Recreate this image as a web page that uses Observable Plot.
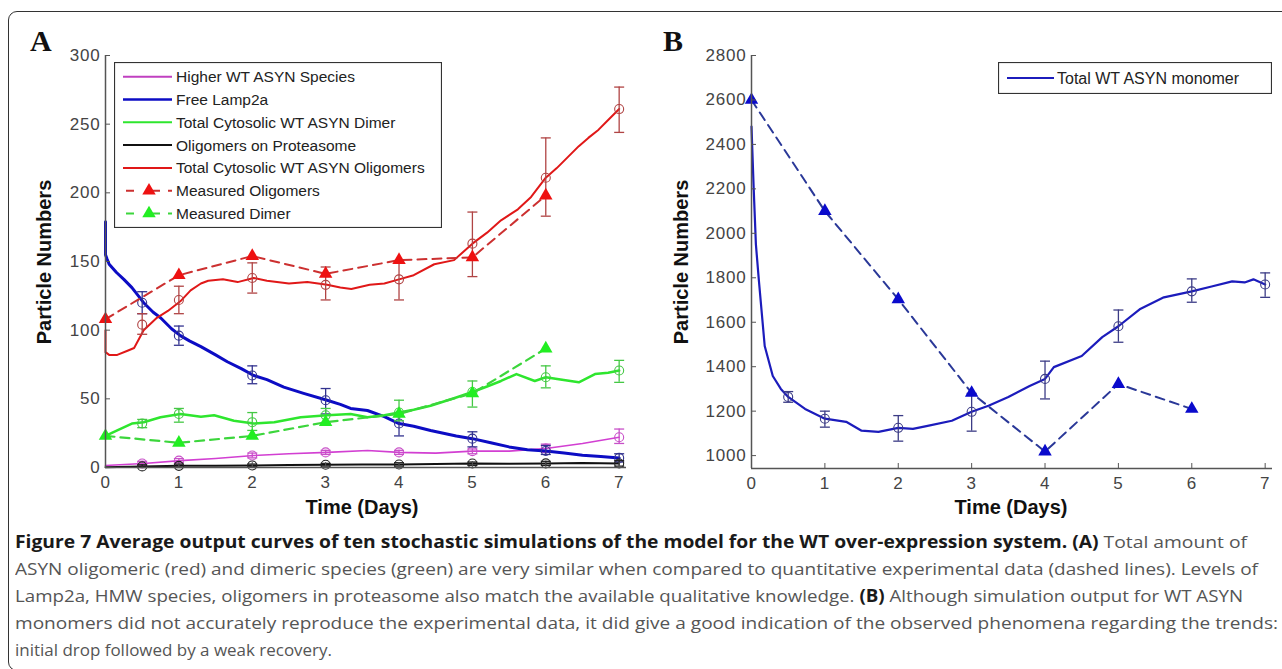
<!DOCTYPE html>
<html><head><meta charset="utf-8">
<script src="https://cdn.jsdelivr.net/npm/d3@7"></script>
<script src="https://cdn.jsdelivr.net/npm/@observablehq/plot@0.6"></script>
<style>
html,body{margin:0;padding:0;background:#fff;width:1282px;height:669px;overflow:hidden;}
#page{position:relative;width:1282px;height:669px;}
#frame{position:absolute;left:8px;top:11px;width:1290px;height:660px;border:1.5px solid #333;border-radius:9px;box-sizing:border-box}
.plot{position:absolute;top:0}
.letter{position:absolute;font-family:"Liberation Serif",serif;font-weight:bold;font-size:30px;line-height:1;color:#111}
.ylab{position:absolute;font-family:"Liberation Sans",Arial,sans-serif;font-weight:bold;font-size:20px;transform:translate(-50%,-50%) rotate(-90deg);white-space:nowrap;color:#111}
.xlab{position:absolute;font-family:"Liberation Sans",Arial,sans-serif;font-weight:bold;font-size:20px;transform:translate(-50%,-50%);white-space:nowrap;color:#111}
.cap{position:absolute;left:15px;font-family:"Open Sans",sans-serif;font-size:17px;color:#555;white-space:nowrap;transform-origin:0 50%;line-height:20px}
.cap b{color:#1a1a1a}
</style></head>
<body><div id="page"><div id="frame"></div></div>
<script>
// ---------- Panel A data ----------
const xTicks = [0,1,2,3,4,5,6,7];
const yTicksA = [0,50,100,150,200,250,300];
const yTicksB = [1000,1200,1400,1600,1800,2000,2200,2400,2600,2800];
const tErr = [0.5,1,2,3,4,5,6,7];

// Total Cytosolic WT ASYN Oligomers (red)
const tRed = [0,0,0.05,0.16,0.3,0.39,0.52,0.7,0.85,1.02,1.16,1.3,1.4,1.6,1.8,2.02,2.2,2.5,2.75,3.02,3.2,3.35,3.6,3.8,4.0,4.2,4.48,4.75,5.0,5.2,5.39,5.62,5.8,6.0,6.15,6.3,6.45,6.58,6.72,6.85,7.0];
const vRed = [100,84,82,82,85,87,100,109,114,121,129,134,136,137,135,138,136,134,135,133,131,130,133,134,137,140,148,151,163,171,180,188,197,211,218,226,234,240,246,253,261];
const mRed = [104,122,138,133,137,163,211,261];
const loRed = [97,112,127,122,122,139,183,244];
const hiRed = [112,132,149,146,150,186,240,277];

// Free Lamp2a (blue)
const tBlue = [0,0,0.02,0.05,0.15,0.25,0.36,0.52,0.65,0.75,0.9,1.02,1.15,1.3,1.5,1.66,1.85,2.02,2.2,2.43,2.7,3.02,3.2,3.34,3.57,3.8,4.0,4.2,4.43,4.78,5.0,5.25,5.5,5.75,6.0,6.25,6.5,6.75,7.0];
const vBlue = [179,155,152,148,142,137,131,120,113,109,101,96,92,88,82,77,72,67,64,58.5,54,49,46,43,41.5,37,32,30,27,23,21,18,15,13,12,10.5,9,8,7];
const mBlue = [120,96,67,49,32,21,12,7];
const loBlue = [112,89,61,39,23,15,9.5,4];
const hiBlue = [128,103,74,57.5,40,26,16,10];

// Total Cytosolic WT ASYN Dimer (green)
const tGreen = [0,0.16,0.36,0.52,0.75,1.02,1.15,1.3,1.48,1.75,2.02,2.3,2.66,3.02,3.34,3.57,3.8,4.0,4.2,4.43,4.78,5.0,5.2,5.39,5.6,5.85,6.0,6.2,6.45,6.67,6.85,7.0];
const vGreen = [23,27,32,33,36.6,39,38,37,38,34,32,33,36.6,38,39,36.6,38,40,42,45,51,55,59,63,68,63,65.7,64,62,68,69,70.6];
const mGreen = [32,39,33,38,40,55,65.7,70.6];
const loGreen = [29,33,27,32,34,44,58,62];
const hiGreen = [35,43,40,43,49,63,74,78];

// Higher WT ASYN Species (magenta)
const tMag = [0,0.52,1.02,1.5,2.02,2.5,3.02,3.57,4.0,4.5,5.0,5.5,6.0,6.5,7.0];
const vMag = [1.5,2.9,5,6.5,8.7,10,11,12.4,11,10.5,11.9,11.9,13.8,17.5,22];
const mMag = [2.9,5,8.7,11,11,11.9,13.8,22];
const loMag = [1.5,3.5,7,9.5,9.5,10,11,17.5];
const hiMag = [4.5,6.5,10.5,12.5,12.5,13.5,17,28];

// Oligomers on Proteasome (black)
const tBlk = [0,0.5,1,1.5,2,2.5,3,3.5,4,4.5,5,5.5,6,6.5,7];
const vBlk = [0.2,0.8,1.2,1.3,1.5,1.8,2,2.1,2.2,2.5,2.9,2.7,3,3.3,2.9];
const mBlk = [0.8,1.2,1.5,2,2.2,2.9,3,2.9];
const loBlk = [0,0,0.5,1,1,1.5,1.5,1];
const hiBlk = [2,2.5,2.5,3,3.5,4,4.5,5];

// Measured data (dashed, triangles)
const tMeas = [0,1,2,3,4,5,6];
const measOlig = [108,140,154,141,151,153,198];
const measDimer = [23,18,23,33,39,54,86.6];

// Legend A
const legendLabelsA = ["Higher WT ASYN Species","Free Lamp2a","Total Cytosolic WT ASYN Dimer","Oligomers on Proteasome","Total Cytosolic WT ASYN Oligomers","Measured Oligomers","Measured Dimer"];

// ---------- Panel B data ----------
const tMono = [0,0.03,0.06,0.1,0.18,0.29,0.4,0.5,0.73,1.0,1.29,1.5,1.73,2.0,2.2,2.4,2.73,3.0,3.23,3.5,3.79,4.0,4.12,4.5,4.78,5.0,5.29,5.62,6.0,6.27,6.55,6.72,6.84,7.0];
const vMono = [2480,2200,1950,1790,1493,1358,1300,1264,1210,1166,1152,1112,1107,1125,1120,1134,1157,1197,1224,1264,1313,1345,1398,1448,1533,1582,1658,1712,1739,1761,1784,1779,1793,1770];
const mMono = [1264,1166,1125,1197,1345,1582,1739,1770];
const loMono = [1240,1128,1065,1110,1255,1510,1690,1712];
const hiMono = [1288,1200,1180,1280,1425,1655,1795,1822];
const measMono = [2600,2100,1703,1282,1018,1322,1210];
const legendLabelB = "Total WT ASYN monomer";

// ---------- helpers ----------
const zip = (t, v) => t.map((x, i) => ({x, y: v[i]}));
const cap = {draw(ctx, size){ const r = Math.sqrt(size/Math.PI); ctx.moveTo(-r,0); ctx.lineTo(r,0); }};
function errMarks(m, lo, hi, color) {
  const d = tErr.map((x,i)=>({x, m:m[i], lo:lo[i], hi:hi[i]}));
  return [
    Plot.ruleX(d, {x:"x", y1:"lo", y2:"hi", stroke: color, strokeWidth: 1.3}),
    Plot.dot(d, {x:"x", y:"lo", symbol: cap, r: 5, stroke: color, strokeWidth: 1.3}),
    Plot.dot(d, {x:"x", y:"hi", symbol: cap, r: 5, stroke: color, strokeWidth: 1.3}),
    Plot.dot(d, {x:"x", y:"m", r: 4.5, stroke: color, fill: "none", strokeWidth: 1.1})
  ];
}
function axes(yTicks, y0) {
  return [
    Plot.ruleX([0], {stroke:"#555", strokeWidth:1.5}),
    Plot.ruleY([y0], {stroke:"#555", strokeWidth:1.5}),
    Plot.axisX(xTicks, {anchor:"bottom", tickSize:-5, tickPadding:13, stroke:"#555", fill:"#444", label:null, tickFormat: d => String(d)}),
    Plot.axisY(yTicks, {anchor:"left", tickSize:-5, tickPadding:10, stroke:"#555", fill:"#444", label:null, tickFormat: d => String(d)})
  ];
}
const style = {fontFamily:'"Liberation Sans", Arial, sans-serif', fontSize:"17px", background:"transparent", overflow:"visible", letterSpacing:"0.8px"};

// ---------- Panel A ----------
const plotA = Plot.plot({
  width: 640, height: 500, marginLeft: 105, marginRight: 14, marginTop: 55, marginBottom: 33,
  x: {domain:[0,7.1]}, y: {domain:[0,300]}, style,
  marks: [
    Plot.line(zip(tMag, vMag), {x:"x", y:"y", stroke:"#d23fd2", strokeWidth:1.6}),
    ...errMarks(mMag, loMag, hiMag, "#c850c8"),
    Plot.line(zip(tBlue, vBlue), {x:"x", y:"y", stroke:"#0c0cc4", strokeWidth:3}),
    ...errMarks(mBlue, loBlue, hiBlue, "#33338f"),
    Plot.line(zip(tGreen, vGreen), {x:"x", y:"y", stroke:"#2ee62e", strokeWidth:2.5}),
    ...errMarks(mGreen, loGreen, hiGreen, "#45c845"),
    Plot.line(zip(tBlk, vBlk), {x:"x", y:"y", stroke:"#111", strokeWidth:2}),
    ...errMarks(mBlk, loBlk, hiBlk, "#222"),
    Plot.line(zip(tRed, vRed), {x:"x", y:"y", stroke:"#e01818", strokeWidth:2}),
    ...errMarks(mRed, loRed, hiRed, "#b04444"),
    Plot.line(zip(tMeas, measOlig), {x:"x", y:"y", stroke:"#cc3030", strokeWidth:2, strokeDasharray:"9,6"}),
    Plot.dot(zip(tMeas, measOlig), {x:"x", y:"y", symbol:"triangle", r:5, fill:"#ee1111"}),
    Plot.line(zip(tMeas, measDimer), {x:"x", y:"y", stroke:"#3cd63c", strokeWidth:2.2, strokeDasharray:"9,6"}),
    Plot.dot(zip(tMeas, measDimer), {x:"x", y:"y", symbol:"triangle", r:5, fill:"#22ee22"}),
    ...axes(yTicksA, 0)
  ]
});
plotA.classList.add("plot"); plotA.style.left = "0px";

// ---------- Panel B ----------
const plotB = Plot.plot({
  width: 640, height: 500, marginLeft: 111, marginRight: 8, marginTop: 55, marginBottom: 32,
  x: {domain:[0,7.1]}, y: {domain:[942,2800]}, style,
  marks: [
    Plot.line(zip(tMono, vMono), {x:"x", y:"y", stroke:"#1c1cbc", strokeWidth:2.2}),
    ...errMarks(mMono, loMono, hiMono, "#3c3c86"),
    Plot.line(zip(tMeas, measMono), {x:"x", y:"y", stroke:"#2a3898", strokeWidth:2, strokeDasharray:"9,6"}),
    Plot.dot(zip(tMeas, measMono), {x:"x", y:"y", symbol:"triangle", r:5, fill:"#0a0acc"}),
    ...axes(yTicksB, 942)
  ]
});
plotB.classList.add("plot"); plotB.style.left = "640px";

const page = document.getElementById("page");
page.appendChild(plotA); page.appendChild(plotB);

// ---------- labels ----------
function addDiv(cls, text, css) { const d = document.createElement("div"); d.className = cls; d.textContent = text; Object.assign(d.style, css); page.appendChild(d); return d; }
addDiv("letter", "A", {left:"30px", top:"26px"});
addDiv("letter", "B", {left:"663px", top:"26px"});
addDiv("ylab", "Particle Numbers", {left:"44px", top:"262px"});
addDiv("ylab", "Particle Numbers", {left:"681px", top:"262px"});
addDiv("xlab", "Time (Days)", {left:"362px", top:"507px"});
addDiv("xlab", "Time (Days)", {left:"1011px", top:"507px"});

// ---------- legends ----------
const legA = d3.select(page).append("svg").style("position","absolute").style("left","114px").style("top","62px")
  .attr("width", 328).attr("height", 166);
legA.append("rect").attr("x",0.5).attr("y",0.5).attr("width",327).attr("height",165).attr("fill","#fff").attr("stroke","#333").attr("stroke-width",1.2);
const legColors = ["#c040c0","#0c0cc4","#2ee62e","#111","#e01818","#cc3030","#3cd63c"];
const triColors = [null,null,null,null,null,"#ee1111","#22ee22"];
legendLabelsA.forEach((lab, i) => {
  const cy = 14.7 + i*22.8;
  const g = legA.append("g");
  if (triColors[i]) {
    g.append("line").attr("x1",12).attr("x2",58).attr("y1",cy).attr("y2",cy).attr("stroke",legColors[i]).attr("stroke-width",2).attr("stroke-dasharray","8,17,9");
    g.append("path").attr("d", d3.symbol(d3.symbolTriangle, 78)()).attr("transform",`translate(35,${cy})`).attr("fill",triColors[i]);
  } else {
    g.append("line").attr("x1",9).attr("x2",58).attr("y1",cy).attr("y2",cy).attr("stroke",legColors[i]).attr("stroke-width",i===1?2.5:2);
  }
  g.append("text").attr("x",62).attr("y",cy).attr("dy","0.36em").attr("font-family","Liberation Sans, Arial, sans-serif").attr("font-size","15.5px").attr("fill","#222").text(lab);
});
const legB = d3.select(page).append("svg").style("position","absolute").style("left","998px").style("top","62px")
  .attr("width", 274).attr("height", 32);
legB.append("rect").attr("x",0.5).attr("y",0.5).attr("width",273).attr("height",31).attr("fill","#fff").attr("stroke","#333").attr("stroke-width",1.2);
legB.append("line").attr("x1",9).attr("x2",56).attr("y1",16).attr("y2",16).attr("stroke","#1c1cbc").attr("stroke-width",2.2);
legB.append("text").attr("x",59).attr("y",16).attr("dy","0.36em").attr("font-family","Liberation Sans, Arial, sans-serif").attr("font-size","16px").attr("fill","#222").text(legendLabelB);

// ---------- caption ----------
const captionLines = [
  ['<b>Figure 7 Average output curves of ten stochastic simulations of the model for the WT over-expression system. (A)</b> Total amount of', 1247],
  ['ASYN oligomeric (red) and dimeric species (green) are very similar when compared to quantitative experimental data (dashed lines). Levels of', 1258],
  ['Lamp2a, HMW species, oligomers in proteasome also match the available qualitative knowledge. <b>(B)</b> Although simulation output for WT ASYN', 1243],
  ['monomers did not accurately reproduce the experimental data, it did give a good indication of the observed phenomena regarding the trends:', 1278],
  ['initial drop followed by a weak recovery.', 332]
];
captionLines.forEach(([html, right], i) => {
  const d = document.createElement("div");
  d.className = "cap"; d.innerHTML = html;
  d.style.top = (532 + i*27) + "px";
  page.appendChild(d);
  const w = d.getBoundingClientRect().width;
  d.style.transform = `scaleX(${(right - 15)/w})`;
});
</script>
</body></html>
